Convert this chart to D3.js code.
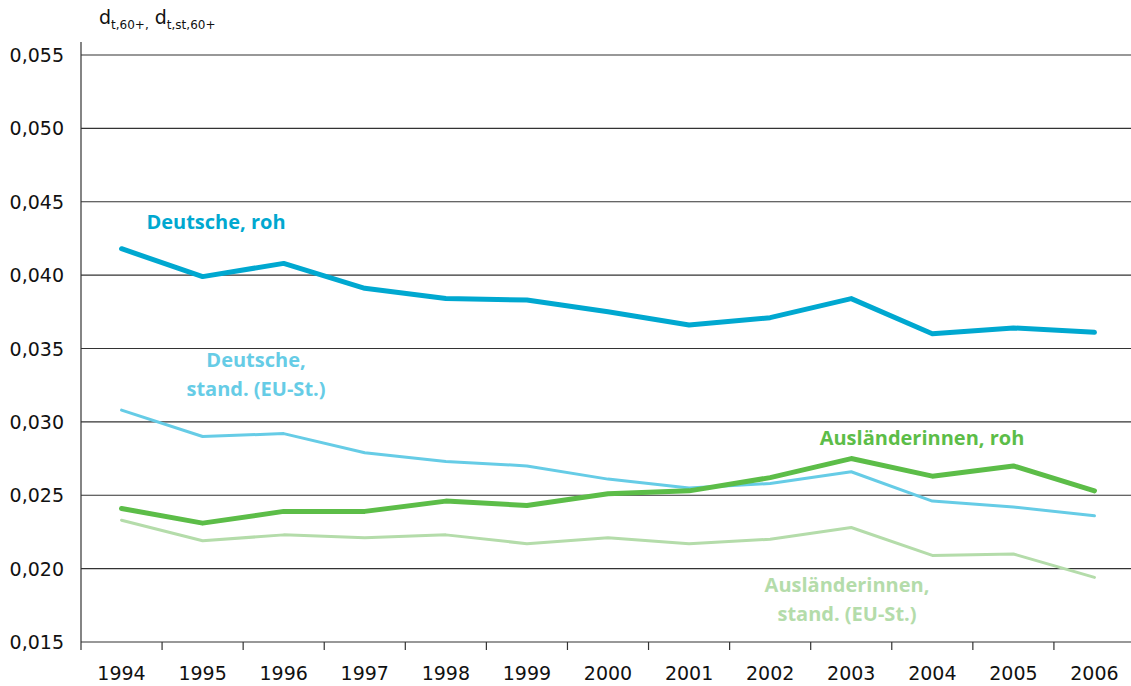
<!DOCTYPE html>
<html>
<head>
<meta charset="utf-8">
<script src="https://cdn.jsdelivr.net/npm/d3@7"></script>
<style>
  body { margin: 0; background: #fff; }
  svg { display: block; }
</style>
</head>
<body>
<div id="chart"></div>
<script>
// Years on the x axis
const years = ["1994", "1995", "1996", "1997", "1998", "1999", "2000",
               "2001", "2002", "2003", "2004", "2005", "2006"];

// Series values
const deutscheRoh = [0.0418, 0.0399, 0.0408, 0.0391, 0.0384, 0.0383, 0.0375,
                     0.0366, 0.0371, 0.0384, 0.0360, 0.0364, 0.0361];
const deutscheStand = [0.0308, 0.0290, 0.0292, 0.0279, 0.0273, 0.0270, 0.0261,
                       0.0255, 0.0258, 0.0266, 0.0246, 0.0242, 0.0236];
const auslRoh = [0.0241, 0.0231, 0.0239, 0.0239, 0.0246, 0.0243, 0.0251,
                 0.0253, 0.0262, 0.0275, 0.0263, 0.0270, 0.0253];
const auslStand = [0.0233, 0.0219, 0.0223, 0.0221, 0.0223, 0.0217, 0.0221,
                   0.0217, 0.0220, 0.0228, 0.0209, 0.0210, 0.0194];

const yTicks = [0.015, 0.020, 0.025, 0.030, 0.035, 0.040, 0.045, 0.050, 0.055];

const width = 1131, height = 686;
const plotLeft = 81, plotRight = 1135, plotTop = 55, plotBottom = 642;

const svg = d3.select("#chart").append("svg")
  .attr("width", width)
  .attr("height", height);

const x = d3.scaleBand().domain(years).range([plotLeft, plotRight]).padding(0);
const y = d3.scaleLinear().domain([0.015, 0.055]).range([plotBottom, plotTop]);
const fmt = v => d3.format(".3f")(v).replace(".", ",");

// Horizontal grid lines
svg.append("g")
  .selectAll("line")
  .data(yTicks)
  .enter().append("line")
  .attr("x1", plotLeft)
  .attr("x2", width)
  .attr("y1", d => y(d))
  .attr("y2", d => y(d))
  .attr("stroke", "#333")
  .attr("stroke-width", 1.2);

// Y axis line
svg.append("line")
  .attr("x1", plotLeft).attr("x2", plotLeft)
  .attr("y1", 42).attr("y2", plotBottom + 8)
  .attr("stroke", "#333")
  .attr("stroke-width", 1.2);

// Y tick labels
svg.append("g")
  .selectAll("text")
  .data(yTicks)
  .enter().append("text")
  .attr("x", 64)
  .attr("y", d => y(d) + 7)
  .attr("text-anchor", "end")
  .style("font-family", "DejaVu Sans, sans-serif")
  .style("font-size", "19px")
  .style("fill", "#111")
  .text(fmt);

// X tick marks at band edges
svg.append("g")
  .selectAll("line")
  .data(years.slice(1))
  .enter().append("line")
  .attr("x1", d => x(d))
  .attr("x2", d => x(d))
  .attr("y1", plotBottom)
  .attr("y2", plotBottom + 8)
  .attr("stroke", "#333")
  .attr("stroke-width", 1.2);

// X labels
svg.append("g")
  .selectAll("text")
  .data(years)
  .enter().append("text")
  .attr("x", d => x(d) + x.bandwidth() / 2)
  .attr("y", 680)
  .attr("text-anchor", "middle")
  .style("font-family", "DejaVu Sans, sans-serif")
  .style("font-size", "19px")
  .style("fill", "#111")
  .text(d => d);

// Y axis title with subscripts
const title = svg.append("text")
  .attr("x", 99)
  .attr("y", 24)
  .style("font-family", "DejaVu Sans, sans-serif")
  .style("font-size", "19px")
  .style("fill", "#111");
title.append("tspan").text("d");
title.append("tspan").attr("dy", 5).style("font-size", "12px").text("t,60+,");
title.append("tspan").attr("dy", -5).text(" d");
title.append("tspan").attr("dy", 5).style("font-size", "12px").text("t,st,60+");

// Lines
const line = d3.line()
  .x((d, i) => x(years[i]) + x.bandwidth() / 2)
  .y(d => y(d));

const series = [
  { values: auslStand, color: "#b4dcaa", width: 3 },
  { values: deutscheStand, color: "#66cce6", width: 3 },
  { values: auslRoh, color: "#5cbd48", width: 5 },
  { values: deutscheRoh, color: "#00a8d0", width: 5 }
];

svg.append("g")
  .selectAll("path")
  .data(series)
  .enter().append("path")
  .attr("d", d => line(d.values))
  .attr("fill", "none")
  .attr("stroke", d => d.color)
  .attr("stroke-width", d => d.width)
  .attr("stroke-linejoin", "round")
  .attr("stroke-linecap", "round");

// Series labels
const labels = [
  { lines: ["Deutsche, roh"], x: 216, y: 229, color: "#00a8d0" },
  { lines: ["Deutsche,", "stand. (EU-St.)"], x: 256, y: 367, color: "#66cce6" },
  { lines: ["Ausländerinnen, roh"], x: 922, y: 445, color: "#5cbd48" },
  { lines: ["Ausländerinnen,", "stand. (EU-St.)"], x: 847, y: 592, color: "#b4dcaa" }
];

labels.forEach(l => {
  const t = svg.append("text")
    .attr("text-anchor", "middle")
    .style("font-family", "Open Sans, sans-serif")
    .style("font-size", "20px")
    .style("font-weight", "bold")
    .style("fill", l.color);
  l.lines.forEach((s, i) => {
    t.append("tspan")
      .attr("x", l.x)
      .attr("y", l.y + i * 29)
      .text(s);
  });
});
</script>
</body>
</html>
